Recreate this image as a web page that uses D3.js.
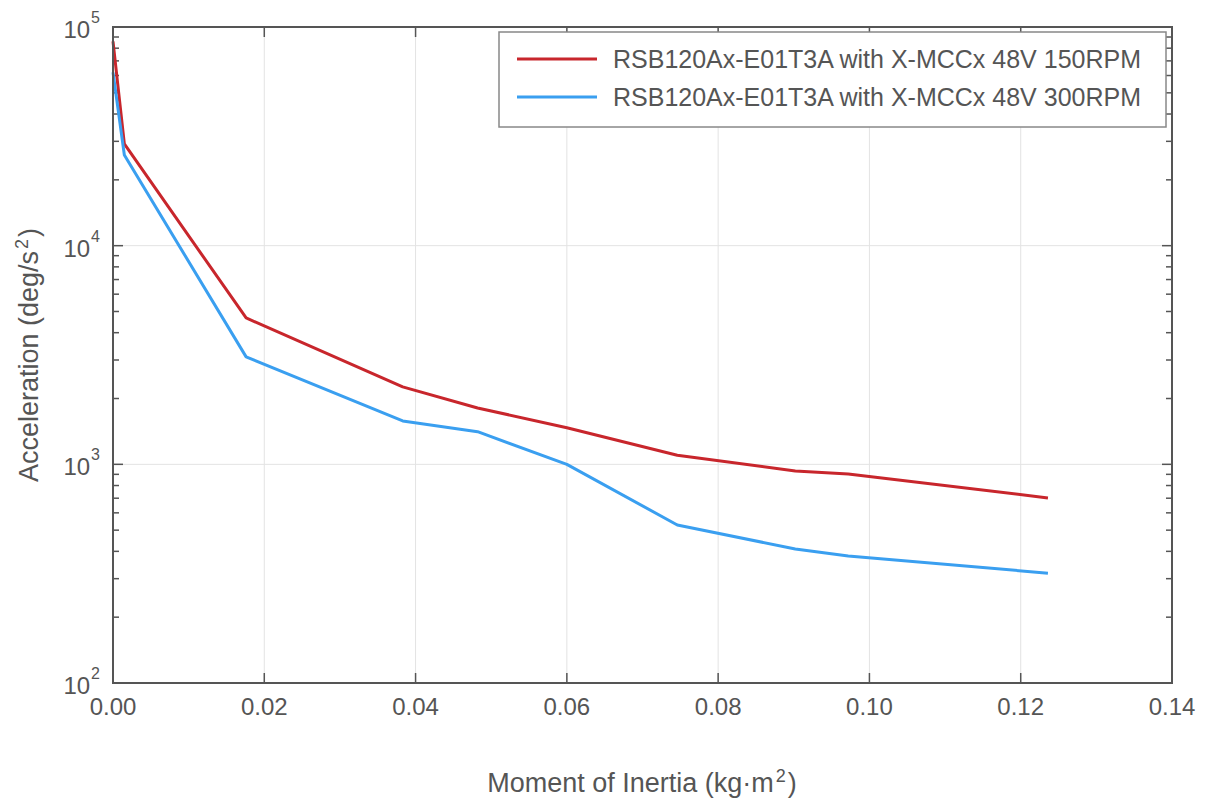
<!DOCTYPE html>
<html>
<head>
<meta charset="utf-8" />
<title>Acceleration vs Moment of Inertia | D3</title>
<style>
body { margin: 0; background: #fff; font-family: "Liberation Sans", Arial, sans-serif; }
text { fill: #555; }
</style>
<script src="https://d3js.org/d3.v7.min.js"></script>
</head>
<body>
<script>
// data
var inertia150 = [0.0, 0.0015, 0.0176, 0.0383, 0.0482, 0.0600, 0.0746, 0.0902, 0.0972, 0.1236];
var accel150   = [86000, 29200, 4670, 2260, 1810, 1470, 1100, 933, 904, 702];
var inertia300 = [0.0, 0.0015, 0.0176, 0.0383, 0.0482, 0.0600, 0.0746, 0.0902, 0.0972, 0.1236];
var accel300   = [62000, 26000, 3100, 1580, 1410, 1000, 528, 410, 381, 318];
var seriesNames = ["RSB120Ax-E01T3A with X-MCCx 48V 150RPM", "RSB120Ax-E01T3A with X-MCCx 48V 300RPM"];
var seriesColors = ["#c8262c", "#3a9ff0"];
var xTicks = [0, 0.02, 0.04, 0.06, 0.08, 0.10, 0.12, 0.14];
var yDecades = [2, 3, 4, 5];

var width = 1205, height = 803;
var pLeft = 113, pRight = 1172, pTop = 27, pBottom = 683;
var axisColor = "#555";

var svg = d3.select("body").append("svg")
  .attr("width", width).attr("height", height);

var x = d3.scaleLinear().domain([0, 0.14]).range([pLeft, pRight]);
var y = d3.scaleLog().domain([100, 100000]).range([pBottom, pTop]);

// grid
var grid = svg.append("g");
grid.selectAll(".gx").data(xTicks.slice(1, -1)).enter().append("line")
  .attr("x1", d => x(d)).attr("x2", d => x(d))
  .attr("y1", pTop).attr("y2", pBottom)
  .attr("stroke", "#e3e3e3").attr("stroke-width", 1);
grid.selectAll(".gy").data(yDecades.slice(1, -1)).enter().append("line")
  .attr("y1", d => y(Math.pow(10, d))).attr("y2", d => y(Math.pow(10, d)))
  .attr("x1", pLeft).attr("x2", pRight)
  .attr("stroke", "#e3e3e3").attr("stroke-width", 1);

// minor log ticks
var minor = [];
for (var e = 2; e < 5; e++) for (var m = 2; m <= 9; m++) minor.push(m * Math.pow(10, e));
var ticks = svg.append("g").attr("stroke", axisColor).attr("stroke-width", 1.5);
ticks.selectAll(".ml").data(minor).enter().append("line")
  .attr("x1", pLeft).attr("x2", pLeft + 6)
  .attr("y1", d => y(d)).attr("y2", d => y(d));
ticks.selectAll(".mr").data(minor).enter().append("line")
  .attr("x1", pRight).attr("x2", pRight - 6)
  .attr("y1", d => y(d)).attr("y2", d => y(d));
// major ticks
ticks.selectAll(".Ml").data(yDecades).enter().append("line")
  .attr("x1", pLeft).attr("x2", pLeft + 10)
  .attr("y1", d => y(Math.pow(10, d))).attr("y2", d => y(Math.pow(10, d)));
ticks.selectAll(".Mr").data(yDecades).enter().append("line")
  .attr("x1", pRight).attr("x2", pRight - 10)
  .attr("y1", d => y(Math.pow(10, d))).attr("y2", d => y(Math.pow(10, d)));
ticks.selectAll(".Mb").data(xTicks).enter().append("line")
  .attr("x1", d => x(d)).attr("x2", d => x(d))
  .attr("y1", pBottom).attr("y2", pBottom - 10);
ticks.selectAll(".Mt").data(xTicks).enter().append("line")
  .attr("x1", d => x(d)).attr("x2", d => x(d))
  .attr("y1", pTop).attr("y2", pTop + 10);

// lines
var line = d3.line().x(d => x(d[0])).y(d => y(d[1]));
var series = [d3.zip(inertia150, accel150), d3.zip(inertia300, accel300)];
svg.append("g").selectAll("path").data(series).enter().append("path")
  .attr("d", line)
  .attr("fill", "none")
  .attr("stroke", (d, i) => seriesColors[i])
  .attr("stroke-width", 3)
  .attr("stroke-linejoin", "round");

// frame
svg.append("rect")
  .attr("x", pLeft).attr("y", pTop)
  .attr("width", pRight - pLeft).attr("height", pBottom - pTop)
  .attr("fill", "none").attr("stroke", axisColor).attr("stroke-width", 2);

// x tick labels
svg.append("g").selectAll("text").data(xTicks).enter().append("text")
  .attr("x", d => x(d)).attr("y", pBottom + 32)
  .attr("text-anchor", "middle")
  .attr("font-size", 24)
  .text(d => d.toFixed(2));

// y tick labels
var yl = svg.append("g").selectAll("text").data(yDecades).enter().append("text")
  .attr("x", pLeft - 13).attr("y", d => y(Math.pow(10, d)) + 11)
  .attr("text-anchor", "end")
  .attr("font-size", 24);
yl.append("tspan").text("10");
yl.append("tspan").attr("dx", 1).attr("dy", -15).attr("font-size", 16).text(d => d);

// axis titles
svg.append("text")
  .attr("x", 642).attr("y", 792)
  .attr("text-anchor", "middle").attr("font-size", 27)
  .call(t => {
    t.append("tspan").text("Moment of Inertia (kg\u00b7m");
    t.append("tspan").attr("dx", 2).attr("dy", -10).attr("font-size", 18).text("2");
    t.append("tspan").attr("dx", 2).attr("dy", 10).text(")");
  });
svg.append("text")
  .attr("transform", "translate(38," + ((pTop + pBottom) / 2) + ") rotate(-90)")
  .attr("text-anchor", "middle").attr("font-size", 27)
  .call(t => {
    t.append("tspan").text("Acceleration (deg/s");
    t.append("tspan").attr("dx", 2).attr("dy", -10).attr("font-size", 18).text("2");
    t.append("tspan").attr("dx", 2).attr("dy", 10).text(")");
  });

// legend
var lg = svg.append("g");
lg.append("rect")
  .attr("x", 499).attr("y", 32).attr("width", 667).attr("height", 95)
  .attr("fill", "#fff").attr("stroke", "#888").attr("stroke-width", 1.5);
var items = lg.selectAll(".item").data(seriesNames).enter().append("g")
  .attr("transform", (d, i) => "translate(0," + (59 + i * 38) + ")");
items.append("line")
  .attr("x1", 517).attr("x2", 597)
  .attr("stroke", (d, i) => seriesColors[i]).attr("stroke-width", 3);
items.append("text")
  .attr("x", 613).attr("y", 9)
  .attr("font-size", 25)
  .text(d => d);
</script>
</body>
</html>
